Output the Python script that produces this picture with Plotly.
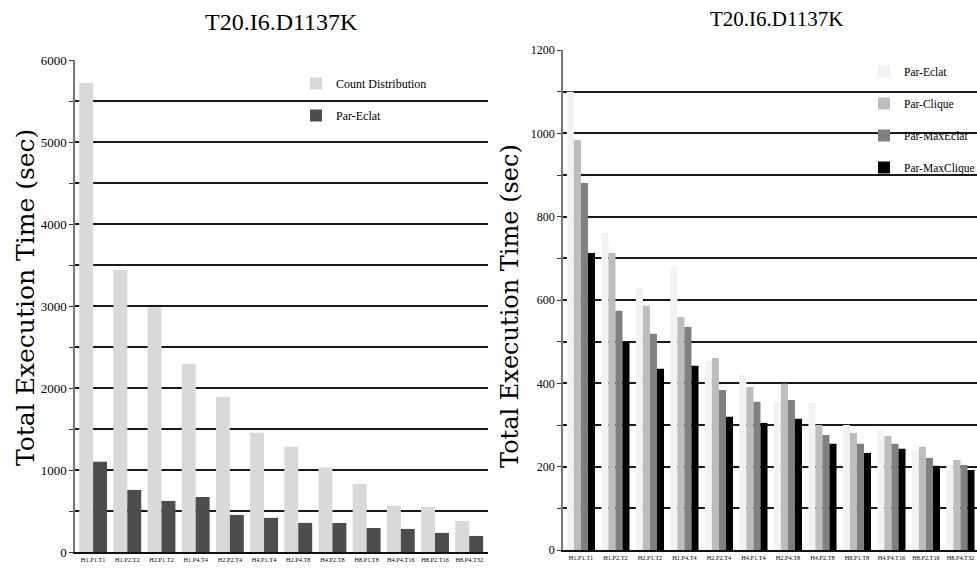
import plotly.graph_objects as go

# ---------------- data ----------------
categories = ["H1.P1.T1", "H1.P2.T2", "H2.P1.T2", "H1.P4.T4", "H2.P2.T4", "H4.P1.T4",
              "H2.P4.T8", "H4.P2.T8", "H8.P1.T8", "H4.P4.T16", "H8.P2.T16", "H8.P4.T32"]

# left chart
count_distribution = [5720, 3440, 2985, 2295, 1890, 1455, 1285, 1030, 830, 565, 550, 380]
par_eclat_left = [1100, 757, 623, 671, 452, 416, 355, 354, 293, 281, 233, 196]

# right chart
par_eclat = [1100, 761, 629, 679, 454, 420, 356, 353, 300, 288, 238, 204]
par_clique = [984, 713, 586, 559, 461, 391, 399, 300, 281, 274, 248, 216]
par_maxeclat = [881, 574, 519, 535, 384, 356, 360, 276, 255, 255, 221, 204]
par_maxclique = [713, 499, 435, 442, 320, 305, 315, 255, 233, 243, 202, 192]

left_ticks = list(range(0, 6001, 500))
right_ticks = list(range(0, 1201, 100))
title_text = "T20.I6.D1137K"
ytitle_text = "Total Execution Time (sec)"

W, H = 977, 576
SERIF = "Liberation Serif, Times New Roman, serif"

fig = go.Figure()

# left traces
fig.add_trace(go.Bar(x=categories, y=count_distribution, name="Count Distribution",
                     marker=dict(color="#d9d9d9", line=dict(width=0)),
                     xaxis="x", yaxis="y", legend="legend", legendgroup="a"))
fig.add_trace(go.Bar(x=categories, y=par_eclat_left, name="Par-Eclat",
                     marker=dict(color="#4d4d4d", line=dict(width=0)),
                     xaxis="x", yaxis="y", legend="legend", legendgroup="b"))

# right traces
for name, vals, col, g in [("Par-Eclat", par_eclat, "#f2f2f2", "c"),
                           ("Par-Clique", par_clique, "#bdbdbd", "d"),
                           ("Par-MaxEclat", par_maxeclat, "#808080", "e"),
                           ("Par-MaxClique", par_maxclique, "#000000", "f")]:
    fig.add_trace(go.Bar(x=categories, y=vals, name=name,
                         marker=dict(color=col, line=dict(width=0)),
                         xaxis="x2", yaxis="y2", legend="legend2", legendgroup=g))

def px_x(p):
    return p / W

def px_y(p):
    return 1 - p / H

xaxis_common = dict(
    type="category", showgrid=False, zeroline=False, showline=True,
    linecolor="#111111", linewidth=2, ticks="", tickangle=0,
    tickfont=dict(family=SERIF, size=6.3, color="#000"), automargin=False,
)
yaxis_common = dict(
    showgrid=True, gridcolor="#1a1a1a", gridwidth=1.5, zeroline=False,
    showline=True, linecolor="#777777", linewidth=1.5,
    ticks="outside", ticklen=4, tickcolor="#333", tickwidth=1,
    automargin=False,
)

fig.update_layout(
    width=W, height=H,
    margin=dict(l=0, r=0, t=0, b=0, autoexpand=False),
    paper_bgcolor="white", plot_bgcolor="white",
    barmode="group", bargap=0.185, bargroupgap=0,
    showlegend=True,
    xaxis=dict(**xaxis_common, domain=[px_x(75), px_x(488)], range=[-0.53, 11.55], anchor="y"),
    yaxis=dict(**yaxis_common, domain=[px_y(552), px_y(60)], range=[0, 6000],
               tickvals=left_ticks,
               ticktext=[str(v) if v % 1000 == 0 else "" for v in left_ticks],
               tickfont=dict(family=SERIF, size=13, color="#000"), anchor="x"),
    xaxis2=dict(**xaxis_common, domain=[px_x(563), 1.0], range=[-0.52, 11.48], anchor="y2"),
    yaxis2=dict(**yaxis_common, domain=[px_y(550), px_y(50)], range=[0, 1200],
                tickvals=right_ticks,
                ticktext=[str(v) if v % 200 == 0 else "" for v in right_ticks],
                tickfont=dict(family=SERIF, size=12, color="#000"), anchor="x2"),
    legend=dict(x=px_x(296), y=px_y(69), xanchor="left", yanchor="top",
                bgcolor="rgba(0,0,0,0)", borderwidth=0, tracegroupgap=13,
                font=dict(family=SERIF, size=12, color="#000")),
    legend2=dict(x=px_x(864), y=px_y(57), xanchor="left", yanchor="top",
                 bgcolor="rgba(0,0,0,0)", borderwidth=0, tracegroupgap=13,
                 font=dict(family=SERIF, size=11.5, color="#000")),
    annotations=[
        dict(text=title_text, x=px_x(281), y=px_y(22), xref="paper", yref="paper",
             xanchor="center", yanchor="middle", showarrow=False,
             font=dict(family=SERIF, size=24, color="#000")),
        dict(text=title_text, x=px_x(776), y=px_y(19), xref="paper", yref="paper",
             xanchor="center", yanchor="middle", showarrow=False,
             font=dict(family=SERIF, size=21, color="#000")),
        dict(text=ytitle_text, x=px_x(25), y=px_y(298), xref="paper", yref="paper",
             xanchor="center", yanchor="middle", showarrow=False, textangle=-90,
             font=dict(family="DejaVu Serif, serif", size=25, color="#000")),
        dict(text=ytitle_text, x=px_x(510), y=px_y(306), xref="paper", yref="paper",
             xanchor="center", yanchor="middle", showarrow=False, textangle=-90,
             font=dict(family="DejaVu Serif, serif", size=24, color="#000")),
    ],
)

fig.write_html(
    "out.html",
    config={"displayModeBar": False},
    post_script="document.body.style.margin='0';document.body.style.padding='0';"
                "document.body.style.overflow='hidden';"
                "document.documentElement.style.overflow='hidden';",
)
